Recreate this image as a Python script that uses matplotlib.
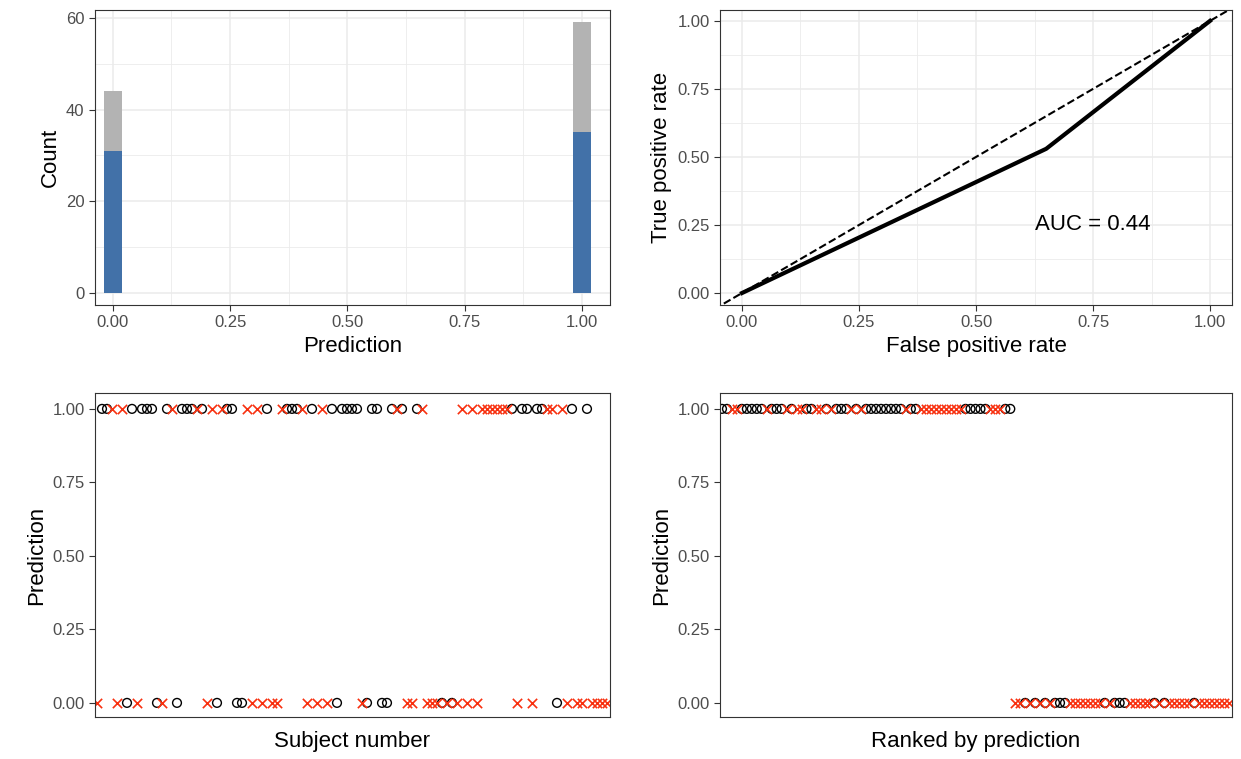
import numpy as np
import matplotlib.pyplot as plt

plt.rcParams['font.family'] = ['Liberation Sans', 'DejaVu Sans']

# subject sequence: A = pred 1 circle, B = pred 1 cross, a = pred 0 circle, b = pred 0 cross
subjects = ("bAABbBaAbAAAabABaAAABAbBaBAAaaBbBbAbbBAAABbAbBbAaAAAAbaAAaaABAbbAB"
            "bbbabab" "BbBbBBBBBB" "AbAAbAABBaB" "bAbbAbbbb")
pred = np.array([1 if c in "AB" else 0 for c in subjects])
is_cross = np.array([c in "Bb" for c in subjects])
n = len(subjects)
subj = np.arange(1, n + 1)

roc_fpr = [0.0, 0.65, 1.0]
roc_tpr = [0.0, 0.53, 1.0]
auc = 0.44

blue = "#4271a8"
gray = "#b3b3b3"
red = "#f8300f"
tick_col = "#4d4d4d"

fig = plt.figure(figsize=(12.41, 7.59), dpi=100)
W, H = 1241, 759
def axpx(l, t, r, b):
    return fig.add_axes([l / W, 1 - b / H, (r - l) / W, (b - t) / H])

def style(ax, grid=True):
    for s in ax.spines.values():
        s.set_color("#333333")
        s.set_linewidth(0.8)
    ax.tick_params(colors="#333333", labelcolor=tick_col, labelsize=12, length=4)
    if grid:
        ax.set_axisbelow(True)
        ax.grid(True, color="#ebebeb", linewidth=1.1)
        ax.set_xticks(np.arange(0.125, 1, 0.25), minor=True)
        ax.grid(True, which="minor", color="#ebebeb", linewidth=0.6)
        ax.tick_params(which="minor", length=0)

# histogram
ax1 = axpx(95, 10, 610, 305)
style(ax1)
correct = (pred == 1) & ~is_cross | (pred == 0) & is_cross
xs = [0, 1]
nb = [np.sum(correct & (pred == v)) for v in xs]
ng = [np.sum(~correct & (pred == v)) for v in xs]
ax1.bar(xs, nb, width=0.037, color=blue)
ax1.bar(xs, ng, width=0.037, bottom=nb, color=gray)
ax1.set_xlim(-0.038, 1.06)
ax1.set_ylim(-2.6, 61.7)
ax1.set_xticks([0, 0.25, 0.5, 0.75, 1.0])
ax1.set_xticklabels(["0.00", "0.25", "0.50", "0.75", "1.00"])
ax1.set_yticks([0, 20, 40, 60])
ax1.set_yticks([10, 30, 50], minor=True)
ax1.set_xlabel("Prediction", fontsize=16)
ax1.set_ylabel("Count", fontsize=16)

# ROC
ax2 = axpx(720, 10, 1232, 305)
style(ax2)
ax2.set_yticks(np.arange(0.125, 1, 0.25), minor=True)
ax2.plot([-0.1, 1.1], [-0.1, 1.1], "k--", lw=1.5)
ax2.plot(roc_fpr, roc_tpr, "k-", lw=3)
ax2.text(0.75, 0.25, "AUC = %.2f" % auc, fontsize=16, ha="center", va="center")
ax2.set_xlim(-0.047, 1.047)
ax2.set_ylim(-0.044, 1.04)
ticks = [0, 0.25, 0.5, 0.75, 1.0]
labs = ["0.00", "0.25", "0.50", "0.75", "1.00"]
ax2.set_xticks(ticks); ax2.set_xticklabels(labs)
ax2.set_yticks(ticks); ax2.set_yticklabels(labs)
ax2.set_xlabel("False positive rate", fontsize=16)
ax2.set_ylabel("True positive rate", fontsize=16)

def scatter_panel(ax, x, p, cross, xlabel):
    style(ax, grid=False)
    ax.scatter(x[~cross], p[~cross], s=40, facecolors="none", edgecolors="black", linewidths=1)
    ax.scatter(x[cross], p[cross], s=45, marker="x", color=red, linewidths=1.2)
    ax.set_xlim(0.6, n + 0.6)
    ax.set_ylim(-0.048, 1.054)
    ax.set_xticks([])
    ax.set_yticks(ticks); ax.set_yticklabels(labs)
    ax.set_xlabel(xlabel, fontsize=16, labelpad=10)
    ax.set_ylabel("Prediction", fontsize=16)

ax3 = axpx(95, 393, 610, 717)
scatter_panel(ax3, subj, pred, is_cross, "Subject number")

order = np.argsort(-pred, kind="stable")
ax4 = axpx(720, 393, 1232, 717)
scatter_panel(ax4, subj, pred[order], is_cross[order], "Ranked by prediction")

fig.savefig("out.png", dpi=100)
